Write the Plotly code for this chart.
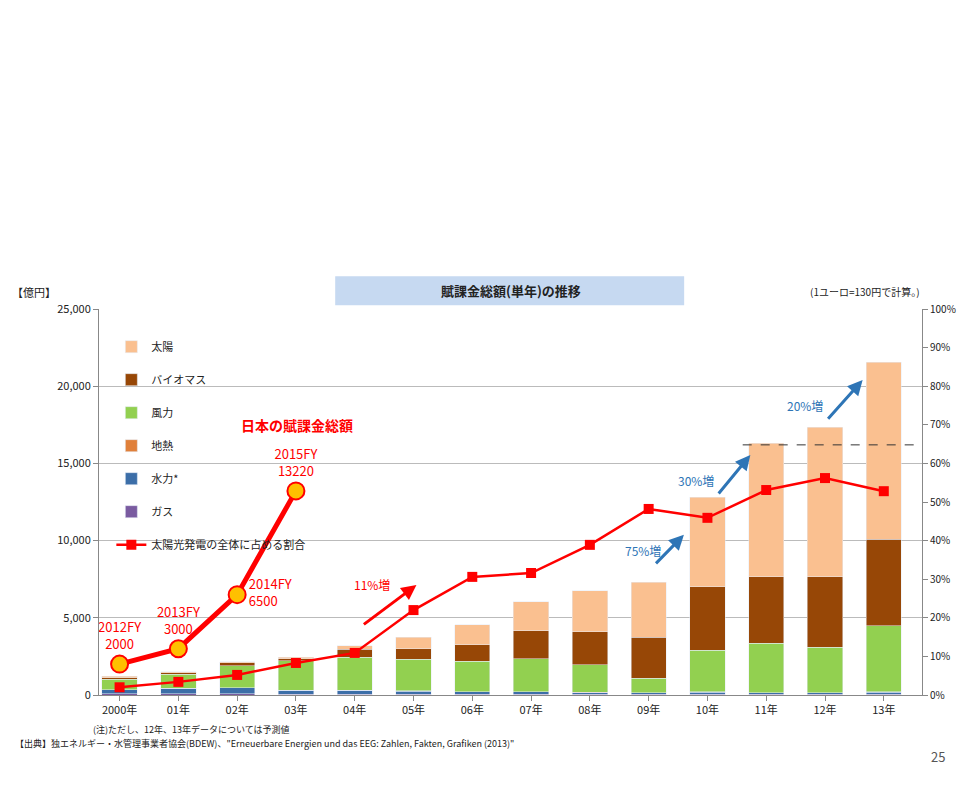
import plotly.graph_objects as go

years = ["2000年", "01年", "02年", "03年", "04年", "05年", "06年", "07年", "08年", "09年", "10年", "11年", "12年", "13年"]
gas = [80, 80, 80, 60, 60, 50, 50, 50, 40, 40, 40, 40, 40, 40]
hydro = [250, 350, 380, 250, 250, 200, 150, 150, 120, 100, 150, 100, 100, 150]
geo = [0, 0, 0, 0, 0, 10, 10, 10, 10, 10, 20, 20, 20, 30]
wind = [700, 900, 1420, 1900, 2150, 2040, 1990, 2140, 1780, 950, 2690, 3190, 2940, 4280]
biomass = [100, 100, 200, 140, 500, 700, 1050, 1800, 2150, 2650, 4100, 4300, 4550, 5600]
solar = [70, 70, 70, 100, 240, 750, 1300, 1900, 2650, 3550, 5800, 8650, 9700, 11450]
share = [2.0, 3.4, 5.2, 8.3, 10.9, 22.0, 30.6, 31.6, 38.9, 48.2, 45.9, 53.1, 56.2, 52.8]
jp_x = ["2000年", "01年", "02年", "03年"]
jp_val = [2000, 3000, 6500, 13220]
jp_lbl = ["2012FY<br>2000", "2013FY<br>3000", "2014FY<br>6500", "2015FY<br>13220"]

font = "Noto Sans CJK JP"
fig = go.Figure()
series = [("ガス", gas, "#7A5BA0", 6), ("水力*", hydro, "#3C6EA8", 5), ("地熱", geo, "#E0803A", 4),
          ("風力", wind, "#92D050", 3), ("バイオマス", biomass, "#974706", 2), ("太陽", solar, "#FAC090", 1)]
for name, vals, col, rank in series:
    fig.add_trace(go.Bar(x=years, y=vals, name=name, marker_color=col, width=0.6,
                         legendrank=rank, legendgroup=name))
fig.add_trace(go.Scatter(x=years, y=share, name="太陽光発電の全体に占める割合", yaxis="y2",
                         mode="lines+markers", line=dict(color="#FF0000", width=2.5),
                         marker=dict(symbol="square", size=10, color="#FF0000"),
                         legendrank=7, legendgroup="share"))
fig.add_trace(go.Scatter(x=jp_x, y=jp_val, mode="lines+markers+text", showlegend=False,
                         line=dict(color="#FF0000", width=5),
                         marker=dict(size=17, color="#FFC000", line=dict(color="#FF0000", width=2)),
                         text=jp_lbl, textposition=["top center", "top center", "middle right", "top center"],
                         textfont=dict(color="#FF0000", size=13, family=font)))

fig.add_shape(type="line", xref="x", yref="y2", x0=10.6, x1=13.65, y0=64.8, y1=64.8,
              line=dict(color="#333", width=1, dash="dash"))
fig.add_shape(type="rect", xref="paper", yref="paper", x0=0.287, x1=0.711, y0=1.01, y1=1.085,
              fillcolor="#C6D9F1", line=dict(width=0))

fig.add_annotation(xref="paper", yref="paper", x=0.5, y=1.047, yanchor="middle", text="<b>賦課金総額(単年)の推移</b>",
                   showarrow=False, font=dict(size=13))
fig.add_annotation(xref="paper", yref="paper", x=0.17, y=0.70, yanchor="middle", text="<b>日本の賦課金総額</b>",
                   showarrow=False, font=dict(size=14, color="#FF0000"))
fig.add_annotation(xref="paper", yref="paper", x=-0.05, y=1.045, yanchor="middle", text="【億円】", showarrow=False,
                   xanchor="right", font=dict(size=11))
fig.add_annotation(xref="paper", yref="paper", x=1.0, y=1.045, yanchor="middle", text="(1ユーロ=130円で計算。)", showarrow=False,
                   xanchor="right", font=dict(size=10))
fig.add_annotation(xref="paper", yref="paper", x=-0.01, y=-0.09, yanchor="middle", text="(注)ただし、12年、13年データについては予測値",
                   showarrow=False, xanchor="left", font=dict(size=9))
fig.add_annotation(xref="paper", yref="paper", x=-0.105, y=-0.125, yanchor="middle",
                   text="【出典】独エネルギー・水管理事業者協会(BDEW)、\"Erneuerbare Energien und das EEG: Zahlen, Fakten, Grafiken (2013)\"",
                   showarrow=False, xanchor="left", font=dict(size=9))
fig.add_annotation(xref="paper", yref="paper", x=1.03, y=-0.16, yanchor="middle", text="25", showarrow=False,
                   xanchor="right", font=dict(size=13, color="#555"))

arrows = [(4.13, 5.05, 18, 28.5, "11%増", "#FF0000", 4.3, 28.5),
          (9.1, 9.6, 33.7, 41.5, "75%増", "#2E75B6", 8.9, 37.5),
          (10.17, 10.73, 51.8, 62.2, "30%増", "#2E75B6", 9.8, 55.7),
          (12.03, 12.64, 71.2, 81.6, "20%増", "#2E75B6", 11.66, 75)]
for x0, x1, y0, y1, t, c, tx, ty in arrows:
    fig.add_annotation(xref="x", yref="y2", x=x1, y=y1, ax=x0, ay=y0, axref="x", ayref="y2",
                       showarrow=True, arrowhead=2, arrowsize=1, arrowwidth=3, arrowcolor=c, text="",
                       standoff=0, startstandoff=0)
    fig.add_annotation(xref="x", yref="y2", x=tx, y=ty, text=t, showarrow=False,
                       font=dict(size=12, color=c))

fig.update_layout(
    width=971, height=803, barmode="stack", plot_bgcolor="white", paper_bgcolor="white",
    font=dict(family=font, size=11, color="#222"),
    margin=dict(l=91, r=57, t=301, b=116),
    xaxis=dict(range=[-0.35, 13.65], showline=True, linecolor="#888", ticks="outside", tickcolor="#888"),
    yaxis=dict(range=[0, 25000], dtick=5000, tickformat=",", showgrid=True, gridcolor="#BBB",
               showline=True, linecolor="#888", ticks="outside", tickcolor="#888"),
    yaxis2=dict(range=[0, 100], dtick=10, ticksuffix="%", overlaying="y", side="right",
                showgrid=False, showline=True, linecolor="#888", ticks="outside", tickcolor="#888",
                tickfont=dict(size=10)),
    legend=dict(x=0.015, y=0.94, xanchor="left", yanchor="top", bgcolor="rgba(0,0,0,0)",
                tracegroupgap=14, font=dict(size=11)),
)
fig.write_html("out.html")
